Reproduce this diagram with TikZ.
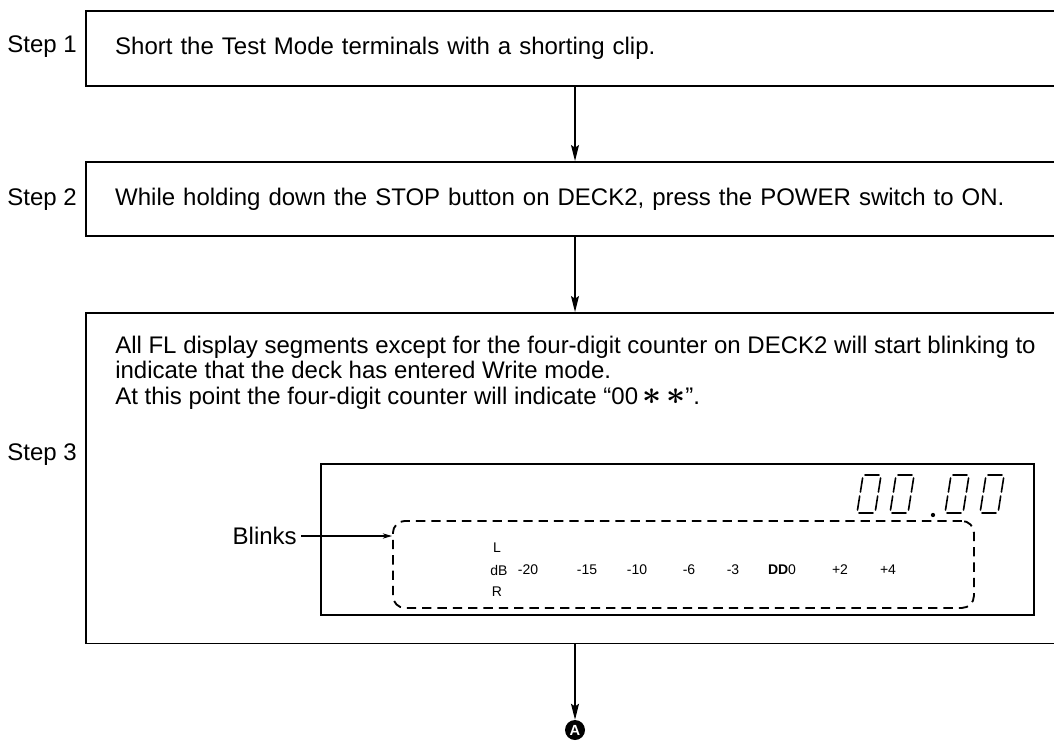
\documentclass[tikz,border=0pt]{standalone}
\usepackage{fontspec}
\setmainfont{Liberation Sans}
\usetikzlibrary{positioning,arrows.meta}

\begin{document}
\begin{tikzpicture}[
  x=0.75pt, y=-0.75pt,
  every node/.style={font=\fontsize{18}{19}\selectfont},
  stepbox/.style={draw, line width=1.3pt, anchor=north west, minimum width=732pt, inner xsep=22pt, text width=688pt, align=left},
  steplbl/.style={anchor=east, inner sep=0pt},
  flow/.style={-{Stealth[length=12pt, width=6pt, inset=2pt]}, line width=1pt},
  dbtick/.style={font=\fontsize{10.5}{12}\selectfont, inner sep=0pt},
  seg/.style={line width=1.2pt, line cap=round}
]
  \useasboundingbox (0,0) rectangle (1054,740);
  \coordinate (axis) at (575,0);

  % Step boxes (open to the right)
  \node[stepbox, minimum height=56.25pt] (s1) at (85,10) {Short the Test Mode terminals with a shorting clip.};
  \node[stepbox, minimum height=55.5pt] (s2) at (85,161) {While holding down the STOP button on DECK2, press the POWER switch to ON.};
  \node[stepbox, minimum height=248pt] (s3) at (85,312) {};
  \node[anchor=north west, align=left, inner sep=0pt] (s3txt) at (115,336)
    {All FL display segments except for the four-digit counter on DECK2 will start blinking to\\
     indicate that the deck has entered Write mode.\\
     At this point the four-digit counter will indicate “00\,{\fontsize{23}{23}\selectfont\boldmath$\ast$\,$\ast$}”.};

  % Step labels
  \node[steplbl] (l1) at (77,47)  {Step 1};
  \node[steplbl] (l2) at (77,200) {Step 2};
  \node[steplbl] (l3) at (77,455) {Step 3};

  % FL display
  \node[draw, line width=1.2pt, anchor=north west, minimum width=534.75pt, minimum height=113.25pt] (fl) at (320,463) {};
  \node[draw, dashed, dash pattern=on 7pt off 4.5pt, line width=1.4pt, rounded corners=9pt, anchor=north west,
        minimum width=435.75pt, minimum height=65.25pt] (blink) at (392,520) {};

  % counter digits 00.00
  \foreach \d in {857,890,945,980}{
    \draw[seg] (\d+8,475) -- (\d+22,475);
    \draw[seg] (\d+2,513) -- (\d+16,513);
    \draw[seg] (\d+5.6,478) -- (\d+3.4,492);
    \draw[seg] (\d+2.7,496) -- (\d+0.5,510);
    \draw[seg] (\d+23.6,478) -- (\d+21.4,492);
    \draw[seg] (\d+20.7,496) -- (\d+18.5,510);
  }
  \fill (933,515) circle[radius=1.6pt];

  % level meter labels
  \node[dbtick] (chL) at (497,548) {L};
  \node[dbtick] (chdB) at (499,570) {dB};
  \node[dbtick] (chR) at (497,592) {R};
  \foreach \v/\x in {-20/528,-15/587,-10/637,-6/689,-3/733,+2/840,+4/888}
    \node[dbtick] (lv\x) at (\x,570) {\v};
  \node[dbtick] (lv0) at (782,570) {\textbf{DD}0};

  % Blinks pointer
  \node[anchor=east, inner sep=0pt] (blinks) at (297,536) {Blinks};
  \draw[-{Stealth[length=7pt, width=4pt]}, line width=0.8pt] ([xshift=3pt]blinks.east) -- (blinks.east -| blink.west);

  % connectors
  \node[circle, fill=black, text=white, inner sep=0pt, minimum size=15pt, font=\fontsize{11}{11}\selectfont\bfseries] (markA) at (575,730) {A};
  \draw[flow] (s1.south -| axis) -- (s2.north -| axis);
  \draw[flow] (s2.south -| axis) -- (s3.north -| axis);
  \draw[flow] (s3.south -| axis) -- (markA.north);
\end{tikzpicture}
\end{document}
